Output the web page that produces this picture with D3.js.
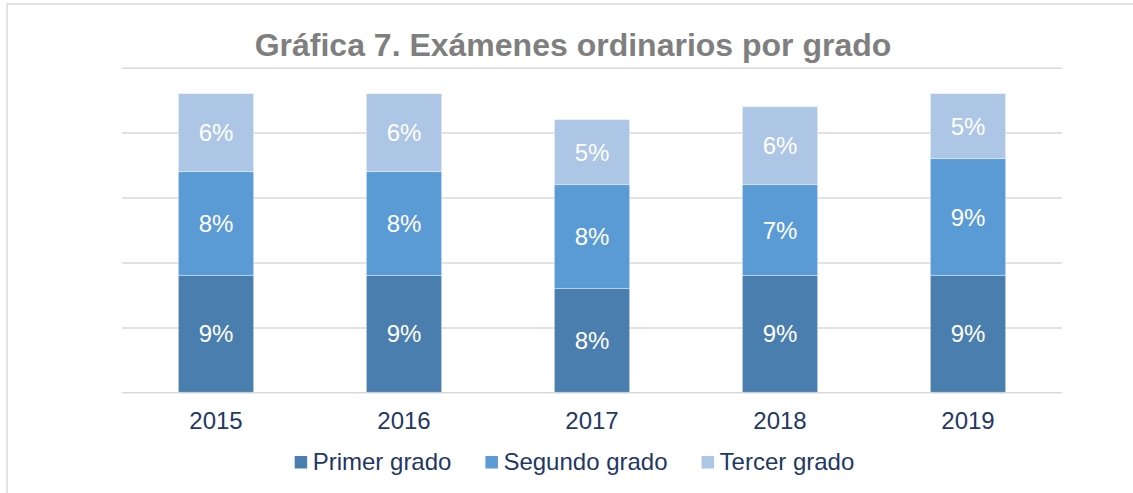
<!DOCTYPE html>
<html lang="es">
<head>
    <meta charset="UTF-8">
    <title>Gráfica 7</title>
    <script src="https://cdn.jsdelivr.net/npm/d3@7"></script>
    <style>
        body { margin: 0; background: #fff; }
        text { font-family: Arial, "Liberation Sans", sans-serif; }
    </style>
</head>
<body>
<script>
    // datos de la gráfica
    var years = ["2015", "2016", "2017", "2018", "2019"];
    var series = ["Primer grado", "Segundo grado", "Tercer grado"];
    var primer = [9, 9, 8, 9, 9];
    var segundo = [8, 8, 8, 7, 9];
    var tercer = [6, 6, 5, 6, 5];
    var gridTicks = [0, 5, 10, 15, 20, 25];

    var colors = ["#4a7eaf", "#5b9bd5", "#adc6e6"];
    var width = 1133, height = 493;
    var margin = { left: 122, right: 71, top: 67.7, bottom: 100.7 };
    var innerW = width - margin.left - margin.right;
    var innerH = height - margin.top - margin.bottom;

    var svg = d3.select("body").append("svg")
        .attr("width", width).attr("height", height);

    // marco
    svg.append("rect")
        .attr("x", 7).attr("y", 4)
        .attr("width", 1200).attr("height", 600)
        .attr("fill", "none").attr("stroke", "#d9d9d9").attr("stroke-width", 1.5);

    // título
    svg.append("text")
        .attr("x", 573).attr("y", 56)
        .attr("text-anchor", "middle")
        .attr("font-size", 32).attr("font-weight", "bold")
        .attr("fill", "#7f7f7f")
        .text("Gráfica 7. Exámenes ordinarios por grado");

    var g = svg.append("g").attr("transform", "translate(" + margin.left + "," + margin.top + ")");

    var x = d3.scaleBand().domain(years).range([0, innerW]).paddingInner(0.6).paddingOuter(0.3);
    var y = d3.scaleLinear().domain([0, 25]).range([innerH, 0]);

    // líneas de cuadrícula
    var grid = g.append("g")
        .call(d3.axisLeft(y).tickValues(gridTicks).tickSize(-innerW).tickFormat(""));
    grid.select(".domain").remove();
    grid.selectAll(".tick line").attr("stroke", "#d9d9d9").attr("stroke-width", 1.5);

    // apilar
    var rows = years.map(function (yr, i) {
        return { year: yr, p: primer[i], s: segundo[i], t: tercer[i] };
    });
    var stack = d3.stack().keys(["p", "s", "t"]);
    var layers = stack(rows);

    var layerG = g.selectAll(".layer").data(layers).enter().append("g")
        .attr("fill", function (d, i) { return colors[i]; });

    layerG.selectAll("rect").data(function (d) { return d; }).enter().append("rect")
        .attr("x", function (d) { return x(d.data.year); })
        .attr("width", x.bandwidth())
        .attr("y", function (d) { return y(d[1]); })
        .attr("height", function (d) { return y(d[0]) - y(d[1]); })
        .attr("stroke", "rgba(255,255,255,0.35)").attr("stroke-width", 1);

    layerG.selectAll("text").data(function (d) { return d; }).enter().append("text")
        .attr("x", function (d) { return x(d.data.year) + x.bandwidth() / 2; })
        .attr("y", function (d) { return (y(d[0]) + y(d[1])) / 2; })
        .attr("dy", "0.36em")
        .attr("text-anchor", "middle")
        .attr("font-size", 24)
        .attr("fill", "#fff")
        .text(function (d) { return (d[1] - d[0]) + "%"; });

    // eje x
    var xAxis = g.append("g")
        .attr("transform", "translate(0," + innerH + ")")
        .call(d3.axisBottom(x).tickSize(0).tickPadding(20));
    xAxis.select(".domain").remove();
    xAxis.selectAll("text")
        .attr("font-size", 24)
        .attr("fill", "#1f3864")
        .style("font-family", "Arial, 'Liberation Sans', sans-serif");

    // leyenda
    var legend = svg.append("g");
    var items = legend.selectAll("g").data(series).enter().append("g");
    items.append("rect")
        .attr("width", 12.5).attr("height", 12.5)
        .attr("y", 456)
        .attr("fill", function (d, i) { return colors[i]; });
    items.append("text")
        .attr("x", 18).attr("y", 470)
        .attr("font-size", 24).attr("fill", "#1f3864")
        .text(function (d) { return d; });

    var pos = 0, offsets = [];
    items.each(function () {
        offsets.push(pos);
        pos += this.getBBox().width + 34;
    });
    var total = pos - 34;
    var startX = 574.5 - total / 2;
    items.attr("transform", function (d, i) { return "translate(" + (startX + offsets[i]) + ",0)"; });
</script>
</body>
</html>
